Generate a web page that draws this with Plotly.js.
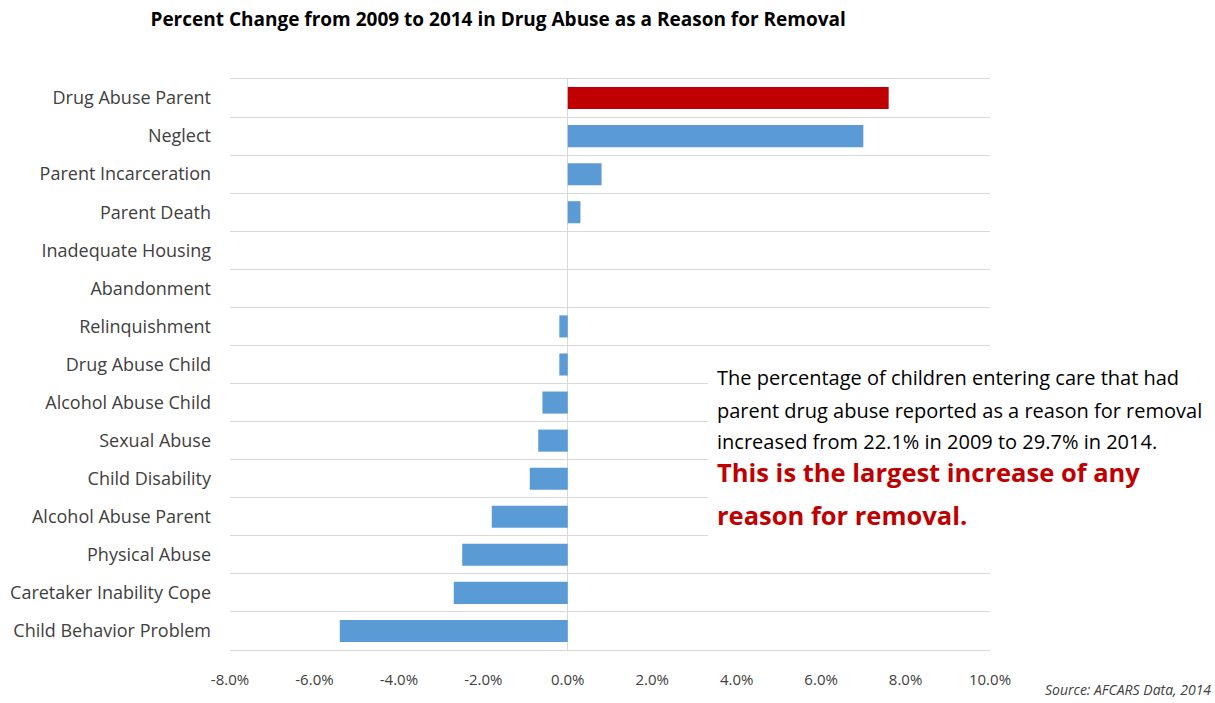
<!DOCTYPE html>
<html>
<head>
<meta charset="utf-8">
<script src="https://cdn.plot.ly/plotly-3.0.1.min.js"></script>
<style>html,body{margin:0;padding:0;background:#fff;}#chart{width:1215px;height:703px;}</style>
</head>
<body>
<div id="chart"></div>
<script>
const categories = [
  "Drug Abuse Parent", "Neglect", "Parent Incarceration", "Parent Death",
  "Inadequate Housing", "Abandonment", "Relinquishment", "Drug Abuse Child",
  "Alcohol Abuse Child", "Sexual Abuse", "Child Disability", "Alcohol Abuse Parent",
  "Physical Abuse", "Caretaker Inability Cope", "Child Behavior Problem"
];
const percentChange = [7.6, 7.0, 0.8, 0.3, 0.0, 0.0, -0.2, -0.2, -0.6, -0.7, -0.9, -1.8, -2.5, -2.7, -5.4];
const xTickValues = [-8, -6, -4, -2, 0, 2, 4, 6, 8, 10];
const xTickLabels = ["-8.0%", "-6.0%", "-4.0%", "-2.0%", "0.0%", "2.0%", "4.0%", "6.0%", "8.0%", "10.0%"];
const highlighted = "Drug Abuse Parent";
const noteLines = [
  "The percentage of children entering care that had",
  "parent drug abuse reported as a reason for removal",
  "increased from 22.1% in 2009 to 29.7% in 2014."
];
const emphasisLines = [
  "This is the largest increase of any",
  "reason for removal."
];
const sourceText = "Source: AFCARS Data, 2014";

const FONT = "'Open Sans', Lato, sans-serif";
const colors = categories.map(c => c === highlighted ? "#C00000" : "#5B9BD5");

const trace = {
  type: "bar",
  orientation: "h",
  y: categories,
  x: percentChange,
  marker: {color: colors},
  hoverinfo: "y+x"
};

const noteY = [0.4764, 0.4203, 0.3660];
const emphY = [0.3117, 0.2364];
const annotations = [];
noteLines.forEach((t, i) => annotations.push({
  xref: "paper", yref: "paper", x: 0.638, y: noteY[i],
  xanchor: "left", yanchor: "middle", align: "left", showarrow: false,
  text: t, font: {family: FONT, size: 20, color: "#000"}
}));
emphasisLines.forEach((t, i) => annotations.push({
  xref: "paper", yref: "paper", x: 0.638, y: emphY[i],
  xanchor: "left", yanchor: "middle", align: "left", showarrow: false,
  text: "<b>" + t + "</b>", font: {family: FONT, size: 25.5, color: "#C00000"}
}));
annotations.push({
  xref: "paper", yref: "paper", x: 1.293, y: -0.07,
  xanchor: "right", yanchor: "middle", showarrow: false,
  text: "<i>" + sourceText + "</i>",
  font: {family: FONT, size: 14, color: "#404040"}
});

const layout = {
  width: 1215, height: 703,
  margin: {l: 230, r: 225, t: 79, b: 53},
  paper_bgcolor: "#fff", plot_bgcolor: "#fff",
  showlegend: false,
  bargap: 0.42,
  font: {family: FONT, size: 16, color: "#404040"},
  title: {
    text: "<b>Percent Change from 2009 to 2014 in Drug Abuse as a Reason for Removal</b>",
    font: {family: FONT, size: 19, color: "#000"},
    xref: "container", x: 0.41, xanchor: "center",
    yref: "container", y: 0.972, yanchor: "middle"
  },
  xaxis: {
    range: [-8, 10],
    tickvals: xTickValues, ticktext: xTickLabels,
    showgrid: false,
    zeroline: true, zerolinecolor: "#d9d9d9", zerolinewidth: 1,
    showline: true, linecolor: "#d9d9d9", linewidth: 1, mirror: true,
    ticks: "",
    ticklabelstandoff: 16,
    tickfont: {family: FONT, size: 15, color: "#404040"},
    fixedrange: true
  },
  yaxis: {
    type: "category",
    categoryorder: "array", categoryarray: categories,
    autorange: "reversed",
    tickson: "boundaries",
    showgrid: true, gridcolor: "#d9d9d9", gridwidth: 1,
    ticks: "", showline: false, zeroline: false,
    ticklabelstandoff: 18,
    tickfont: {family: FONT, size: 18, color: "#404040"},
    fixedrange: true
  },
  shapes: [{
    type: "rect", xref: "paper", yref: "paper", layer: "above",
    x0: 0.629, x1: 1.01, y0: 0.184, y1: 0.508,
    fillcolor: "#fff", line: {width: 0}
  }],
  annotations: annotations
};

Plotly.newPlot("chart", [trace], layout, {displayModeBar: false, staticPlot: true});
</script>
</body>
</html>
